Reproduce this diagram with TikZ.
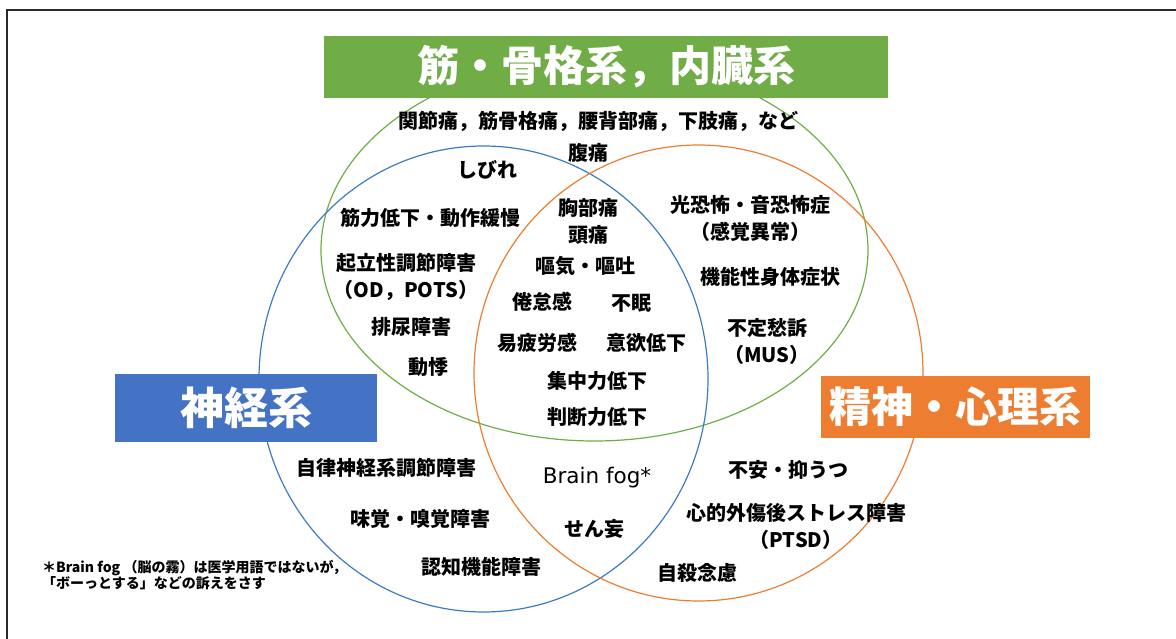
\documentclass[tikz,border=0pt]{standalone}
\usepackage{fontspec}
\setmainfont{Noto Sans CJK JP}
\newfontfamily\latinfont{DejaVu Sans}
\definecolor{cgreen}{HTML}{70AD47}
\definecolor{cblue}{HTML}{4472C4}
\definecolor{cbluel}{HTML}{3A7CC4}
\definecolor{corange}{HTML}{ED7D31}
\definecolor{frame}{HTML}{2A2A2A}
\begin{document}
\begin{tikzpicture}[x=1pt,y=-1pt,
  lbl/.style={font=\fontsize{20}{27}\selectfont\bfseries, align=center, inner sep=0pt},
  head/.style={font=\fontsize{42}{48}\selectfont\bfseries, text=white, inner sep=0pt, anchor=center},
  ring/.style={line width=1.2pt}]
\useasboundingbox (0,0) rectangle (1176,639);
\begin{scope}
\clip (0,0) rectangle (1176,639);
\draw[line width=2.2pt, frame] (7,650) -- (7,10) -- (1190,10);
\end{scope}
% ellipses
\draw[ring, cgreen] (594.5,250) ellipse [x radius=273.5, y radius=191];
\draw[ring, cbluel] (483.5,379) ellipse [x radius=224.5, y radius=233];
\draw[ring, corange] (698.5,373) ellipse [x radius=224.5, y radius=228];
% headers
\node[head, fill=cgreen, minimum width=564pt, minimum height=62pt] (hg) at (606,67) {筋・骨格系，内臓系};
\node[head, fill=cblue, minimum width=262pt, minimum height=68pt, font=\fontsize{44}{50}\selectfont\bfseries] (hb) at (246,407.5) {神経系};
\node[head, fill=corange, minimum width=269pt, minimum height=62pt] (ho) at (955.5,407) {精神・心理系};
% labels
\node[lbl] (t1) at (598,121) {関節痛，筋骨格痛，腰背部痛，下肢痛，など};
\node[lbl] (t2) at (588,153) {腹痛};
\node[lbl] (t3) at (487,170) {しびれ};
\node[lbl] (t4) at (430,218) {筋力低下・動作緩慢};
\node[lbl] (t5) at (588,221.5) {胸部痛\\頭痛};
\node[lbl] (t6) at (750,218) {光恐怖・音恐怖症\\（感覚異常）};
\node[lbl] (t7) at (406,277) {起立性調節障害\\（OD，POTS）};
\node[lbl] (t8) at (585,266) {嘔気・嘔吐};
\node[lbl] (t9) at (770,277) {機能性身体症状};
\node[lbl] (t10) at (542,302) {倦怠感};
\node[lbl] (t11) at (631,303) {不眠};
\node[lbl] (t12) at (411,327) {排尿障害};
\node[lbl] (t13) at (767,341.5) {不定愁訴\\（MUS）};
\node[lbl] (t14) at (537,343) {易疲労感};
\node[lbl] (t15) at (646,343) {意欲低下};
\node[lbl] (t16) at (428,367) {動悸};
\node[lbl] (t17) at (597,381) {集中力低下};
\node[lbl] (t18) at (597,417) {判断力低下};
\node[lbl] (t19) at (386,468) {自律神経系調節障害};
\node[lbl, font=\fontsize{21.5}{27}\selectfont\latinfont] (t20) at (597,478) {Brain fog*};
\node[lbl] (t21) at (788,470) {不安・抑うつ};
\node[lbl] (t22) at (420,519) {味覚・嗅覚障害};
\node[lbl] (t23) at (594,529) {せん妄};
\node[lbl] (t24) at (796,526.5) {心的外傷後ストレス障害\\（PTSD）};
\node[lbl] (t25) at (481,567) {認知機能障害};
\node[lbl] (t26) at (697,573) {自殺念慮};
\node[font=\fontsize{14}{16.5}\selectfont\bfseries, align=left, inner sep=0pt, anchor=north west] (fn) at (42,560) {＊Brain fog （脳の霧）は医学用語ではないが，\\「ボーっとする」などの訴えをさす};
\end{tikzpicture}
\end{document}
